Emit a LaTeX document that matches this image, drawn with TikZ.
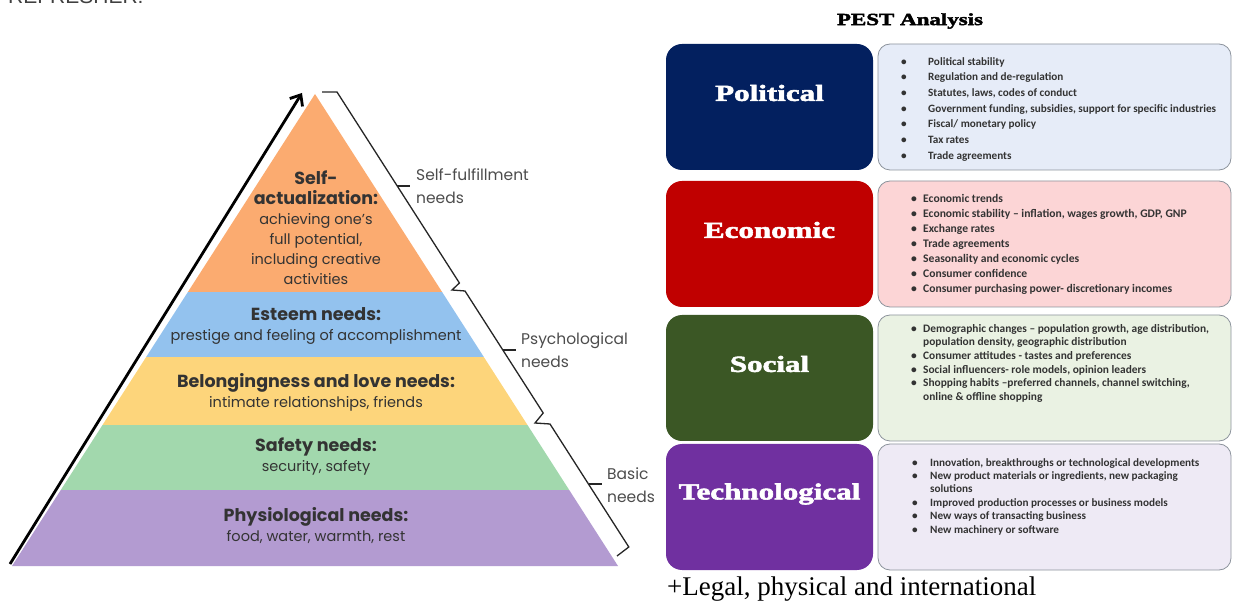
\documentclass[tikz,border=0pt]{standalone}
\usepackage{fontspec}
\setmainfont{Liberation Serif}
\newfontfamily\pyrfont{Poppins}
\newfontfamily\pestfont[FakeStretch=1.35,BoldFeatures={FakeBold=2.5}]{Liberation Serif}
\newfontfamily\listfont{Carlito}
\newfontfamily\notefont{Liberation Sans}
\usetikzlibrary{arrows.meta}

\definecolor{pOrange}{HTML}{FBAB70}
\definecolor{pBlue}{HTML}{93C2EE}
\definecolor{pYellow}{HTML}{FDD57B}
\definecolor{pGreen}{HTML}{A2D8AD}
\definecolor{pPurple}{HTML}{B39BD1}
\definecolor{polDark}{HTML}{03205F}
\definecolor{ecoDark}{HTML}{C00000}
\definecolor{socDark}{HTML}{3B5725}
\definecolor{tecDark}{HTML}{7030A0}
\definecolor{polLight}{HTML}{E6ECF8}
\definecolor{ecoLight}{HTML}{FCD5D6}
\definecolor{socLight}{HTML}{EAF2E3}
\definecolor{tecLight}{HTML}{EEEAF5}
\definecolor{boxEdge}{HTML}{8C939C}

\newcommand{\pyrhead}[1]{{\fontsize{17.5}{20}\selectfont\bfseries #1}}
\newcommand{\blt}[2][27pt]{\makebox[#1][l]{\textbullet}#2}

\begin{document}
\begin{tikzpicture}[x=1pt, y=-1pt,
	pyrtext/.style={align=center, inner sep=0pt, text=black!80, font=\pyrfont\fontsize{14.5}{20}\selectfont},
	needlabel/.style={anchor=west, align=left, inner sep=0pt, text=black!70, font=\pyrfont\fontsize{15.5}{23}\selectfont},
	bracket/.style={line width=1.3pt, black!85},
	pestkey/.style={rounded corners=16pt, minimum width=207pt, minimum height=126pt, inner sep=0pt},
	pestname/.style={text=white, font=\pestfont\bfseries\fontsize{23}{23}\selectfont},
	pestbox/.style={rounded corners=12pt, minimum width=353pt, minimum height=126pt, draw=boxEdge, line width=0.8pt},
	pestlist/.style={anchor=north west, align=left, inner sep=0pt, text=black!80}]
	\useasboundingbox (0,0) rectangle (1235,601);

	\node[anchor=base west, inner sep=0pt, text=black!75, font=\notefont\fontsize{21}{21}\selectfont] (refresh) at (8,4) {REFRESHER:};

	% pyramid
	\begin{scope}
		\clip (315,94) -- (618,566) -- (12,566) -- cycle;
		\fill[pOrange] (0,80) rectangle (640,292);
		\fill[pBlue] (0,292) rectangle (640,357);
		\fill[pYellow] (0,357) rectangle (640,425);
		\fill[pGreen] (0,425) rectangle (640,490);
		\fill[pPurple] (0,490) rectangle (640,570);
	\end{scope}

	\node[pyrtext] (selfact) at (316,228) {\pyrhead{Self-}\\\pyrhead{actualization:}\\achieving one’s\\full potential,\\including creative\\activities};
	\node[pyrtext] (esteem) at (316,326) {\pyrhead{Esteem needs:}\\prestige and feeling of accomplishment};
	\node[pyrtext] (belong) at (316,392) {\pyrhead{Belongingness and love needs:}\\intimate relationships, friends};
	\node[pyrtext] (safety) at (316,457) {\pyrhead{Safety needs:}\\security, safety};
	\node[pyrtext] (physio) at (316,526) {\pyrhead{Physiological needs:}\\food, water, warmth, rest};

	\coordinate (arrS) at (10,564);
	\coordinate (arrE) at (302,93);
	\draw[line width=2.8pt, -{Straight Barb[length=9pt,width=15pt]}] (arrS) -- (arrE);

	% brace on the right side
	\draw[bracket] (322,92) -- (337,92) -- (459.4,283) -- (452,290) -- (465,291)
		-- (543.2,413) -- (535,423) -- (550,424) -- (628.8,547) -- (617,556);
	\coordinate (t1) at (397.3,186);
	\coordinate (t2) at (502.8,350);
	\coordinate (t3) at (588.5,484);
	\node[needlabel] (selffull) at (416,186) {Self-fulfillment\\needs};
	\node[needlabel] (psych) at (521,350) {Psychological\\needs};
	\node[needlabel] (basic) at (607,485) {Basic\\needs};
	\draw[bracket] (t1) -- ++(13,0);
	\draw[bracket] (t2) -- ++(13,0);
	\draw[bracket] (t3) -- ++(13,0);

	% PEST
	\node[font=\pestfont\bfseries\fontsize{17}{17}\selectfont] (title) at (910,21) {PEST Analysis};

	\node[pestkey, fill=polDark] (pol) at (769.5,107) {};
	\node[pestkey, fill=ecoDark] (eco) at (769.5,244) {};
	\node[pestkey, fill=socDark] (soc) at (769.5,378) {};
	\node[pestkey, fill=tecDark] (tec) at (769.5,507) {};
	\node[pestname] (polname) at ([yshift=14pt]pol.center) {Political};
	\node[pestname] (econame) at ([yshift=14pt]eco.center) {Economic};
	\node[pestname] (socname) at ([yshift=14pt]soc.center) {Social};
	\node[pestname] (tecname) at ([yshift=13pt]tec.center) {Technological};

	\node[pestbox, fill=polLight] (polbox) at (1054.5,107) {};
	\node[pestbox, fill=ecoLight] (ecobox) at (1054.5,244) {};
	\node[pestbox, fill=socLight] (socbox) at (1054.5,378) {};
	\node[pestbox, fill=tecLight] (tecbox) at (1054.5,507) {};

	\node[pestlist, font=\listfont\bfseries\fontsize{11.2}{15.7}\selectfont] (pollist) at (901,57) {%
		\blt{Political stability}\\
		\blt{Regulation and de-regulation}\\
		\blt{Statutes, laws, codes of conduct}\\
		\blt{Government funding, subsidies, support for specific industries}\\
		\blt{Fiscal/ monetary policy}\\
		\blt{Tax rates}\\
		\blt{Trade agreements}};
	\node[pestlist, font=\listfont\bfseries\fontsize{11.6}{15}\selectfont] (ecolist) at (911,194) {%
		\blt[12pt]{Economic trends}\\
		\blt[12pt]{Economic stability – inflation, wages growth, GDP, GNP}\\
		\blt[12pt]{Exchange rates}\\
		\blt[12pt]{Trade agreements}\\
		\blt[12pt]{Seasonality and economic cycles}\\
		\blt[12pt]{Consumer confidence}\\
		\blt[12pt]{Consumer purchasing power- discretionary incomes}};
	\node[pestlist, font=\listfont\bfseries\fontsize{11.4}{13.6}\selectfont] (soclist) at (911,324) {%
		\blt[12pt]{Demographic changes – population growth, age distribution,}\\
		\hspace*{12pt}population density, geographic distribution\\
		\blt[12pt]{Consumer attitudes - tastes and preferences}\\
		\blt[12pt]{Social influencers- role models, opinion leaders}\\
		\blt[12pt]{Shopping habits –preferred channels, channel switching,}\\
		\hspace*{12pt}online \& offline shopping};
	\node[pestlist, font=\listfont\bfseries\fontsize{11.2}{13.4}\selectfont] (teclist) at (912,458) {%
		\blt[18pt]{Innovation, breakthroughs or technological developments}\\
		\blt[18pt]{New product materials or ingredients, new packaging}\\
		\hspace*{18pt}solutions\\
		\blt[18pt]{Improved production processes or business models}\\
		\blt[18pt]{New ways of transacting business}\\
		\blt[18pt]{New machinery or software}};

	\node[anchor=base west, inner sep=0pt, font=\fontsize{27}{27}\selectfont] (extra) at (667,595) {+Legal, physical and international};
\end{tikzpicture}
\end{document}
